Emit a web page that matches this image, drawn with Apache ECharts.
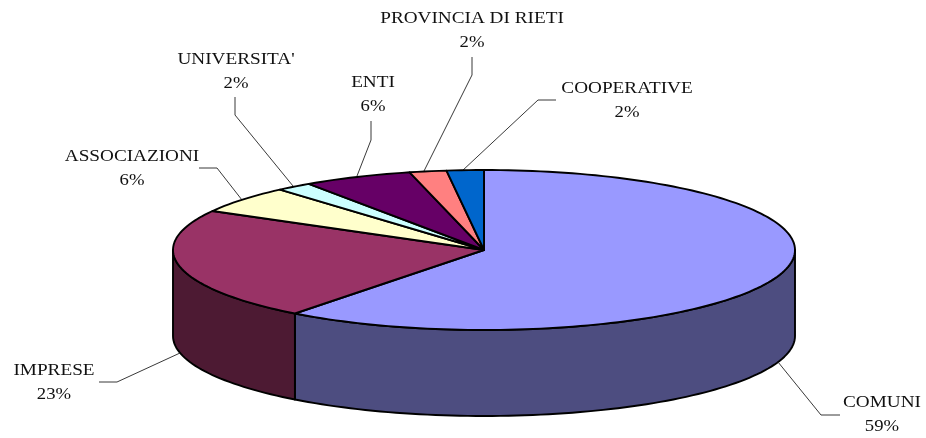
<!DOCTYPE html>
<html>
<head>
<meta charset="utf-8">
<style>html,body{margin:0;padding:0;background:#fff}#c{width:926px;height:438px}</style>
<script src="https://cdn.jsdelivr.net/npm/echarts@6/dist/echarts.min.js"></script>
</head>
<body>
<div id="c"></div>
<script>
const categories = ['COMUNI', 'IMPRESE', 'ASSOCIAZIONI', "UNIVERSITA'", 'ENTI', 'PROVINCIA DI RIETI', 'COOPERATIVE'];
const values = [59, 23, 6, 2, 6, 2, 2];
const topColors = ['#9999FF', '#993366', '#FFFFCC', '#CCFFFF', '#660066', '#FF8080', '#0066CC'];
const wallColors = ['#4D4D80', '#4D1A33', '#80806A', '#6A8080', '#330033', '#804040', '#003366'];
// label centre [x, y of name line]
const labelPos = [[882, 403], [54, 371], [132, 157], [236, 60], [373, 83], [472, 19], [627, 89]];
// leader line from the pie edge to the label
const leaders = [
  [[778, 362], [821, 415], [840, 415]],
  [[180, 353], [117, 382], [99, 382]],
  [[242, 200], [217, 168], [199, 168]],
  [[293, 186], [235, 115], [235, 97]],
  [[357, 176], [371, 140], [371, 121]],
  [[424, 171], [472, 75], [472, 57]],
  [[462, 171], [538, 100], [556, 100]]
];
// pie projection
const cx = 484, cy = 250, rx = 311, ry = 80, depth = 86;
const skewA = 6.08, skewB = 1.975; // angular foreshortening of the tilted disc, degrees
const rad = d => d * Math.PI / 180;
const warp = t => t - skewA * Math.sin(rad(t)) + skewB * Math.sin(rad(2 * t));
const pt = (deg, dy) => [cx + rx * Math.sin(rad(deg)), cy - ry * Math.cos(rad(deg)) + (dy || 0)];
const total = values.reduce((a, b) => a + b, 0);
const bounds = [0];
values.forEach((v, i) => bounds.push(bounds[i] + v / total * 360));
function arc(a, b, dy) {
  const out = [], n = Math.max(2, Math.ceil(Math.abs(b - a) / 1.5));
  for (let i = 0; i <= n; i++) out.push(pt(a + (b - a) * i / n, dy));
  return out;
}
const edge = { stroke: '#000', lineWidth: 1.9, lineJoin: 'round' };
const rows = values.map((v, i) => [i, v]);

function renderWall(params, api) {
  const i = api.value(0);
  const a = Math.max(warp(bounds[i]), 90), b = Math.min(warp(bounds[i + 1]), 270);
  if (b <= a) return { type: 'group', children: [] };
  const pts = arc(a, b, 0).concat(arc(b, a, depth));
  return { type: 'polygon', shape: { points: pts }, style: Object.assign({ fill: wallColors[i] }, edge) };
}
function renderTop(params, api) {
  const i = api.value(0);
  const pts = [[cx, cy]].concat(arc(warp(bounds[i]), warp(bounds[i + 1]), 0));
  return { type: 'polygon', shape: { points: pts }, style: Object.assign({ fill: topColors[i] }, edge) };
}
function renderLabel(params, api) {
  const i = api.value(0), p = labelPos[i];
  const font = { fill: '#111', fontFamily: 'Liberation Serif', fontSize: 17, align: 'center', verticalAlign: 'middle' };
  return { type: 'group', children: [
    { type: 'polyline', shape: { points: leaders[i] }, style: { stroke: '#222', lineWidth: 0.9, fill: null } },
    { type: 'text', x: p[0], y: p[1], scaleX: 1.13, style: Object.assign({ text: categories[i] }, font) },
    { type: 'text', x: p[0], y: p[1] + 24, scaleX: 1.1, style: Object.assign({ text: api.value(1) + '%' }, font) }
  ] };
}
const chart = echarts.init(document.getElementById('c'), null, { renderer: 'canvas' });
const base = { type: 'custom', coordinateSystem: 'none', data: rows, silent: true, animation: false };
chart.setOption({
  animation: false,
  backgroundColor: '#fff',
  series: [
    Object.assign({ renderItem: renderWall, z: 1 }, base),
    Object.assign({ renderItem: renderLabel, z: 2 }, base),
    Object.assign({ renderItem: renderTop, z: 3 }, base)
  ]
});
</script>
</body>
</html>
